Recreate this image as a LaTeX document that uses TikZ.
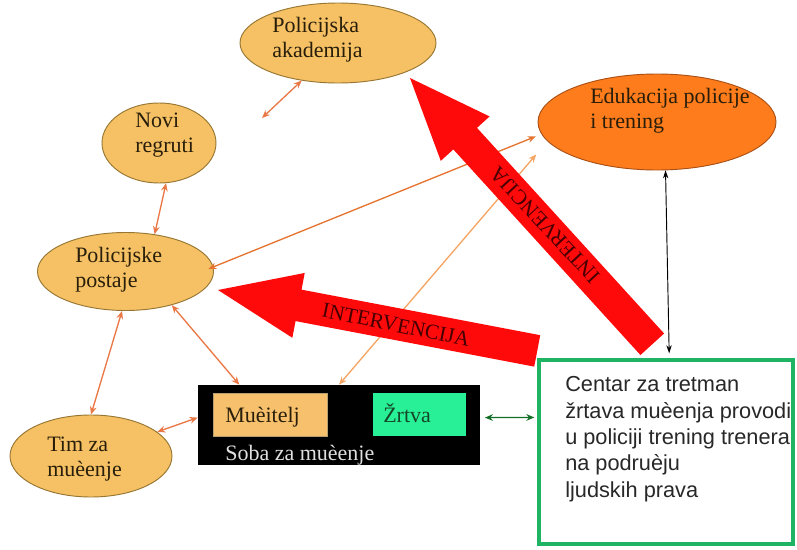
\documentclass[tikz,border=0pt]{standalone}
\usepackage{fontspec}
\setmainfont{Liberation Serif}
\newfontfamily\arialfont{Liberation Sans}
\usetikzlibrary{shapes.geometric,arrows.meta}
\definecolor{ellfill}{RGB}{246,193,100}
\definecolor{ellborder}{RGB}{150,118,50}
\definecolor{edufill}{RGB}{255,124,28}
\definecolor{eduborder}{RGB}{170,80,20}
\definecolor{arrorange}{RGB}{234,120,70}
\definecolor{arrdark}{RGB}{228,116,48}
\definecolor{arrlight}{RGB}{245,165,100}
\definecolor{mucfill}{RGB}{247,192,108}
\definecolor{zrtfill}{RGB}{40,240,150}
\definecolor{zrttext}{RGB}{20,70,40}
\definecolor{greenbox}{RGB}{30,180,100}
\definecolor{darkgreenarr}{RGB}{20,110,40}
\definecolor{bigred}{RGB}{255,10,10}
\definecolor{redtext}{RGB}{70,0,0}
\definecolor{elltext}{RGB}{40,30,10}
\definecolor{boxtext}{RGB}{40,40,40}
\begin{document}
\begin{tikzpicture}[x=0.75pt,y=-0.75pt,
  ell/.style={ellipse, draw=ellborder, fill=ellfill, line width=0.7pt, inner sep=0pt},
  lbl/.style={anchor=base west, align=left, inner sep=0pt, text=elltext,
    font=\fontsize{16.5}{18.5}\selectfont},
  oarr/.style={{Stealth[length=6pt,width=5pt]}-{Stealth[length=6pt,width=5pt]}, draw=arrorange, line width=1pt},
  arrtxt/.style={inner sep=0pt, text=redtext, font=\fontsize{16}{18}\selectfont},
  bigarrow/.style={fill=bigred}
]
\useasboundingbox (0,0) rectangle (797,550);

% ellipses
\node[ell, minimum width=147pt, minimum height=60pt] (acad) at (338,43) {};
\node[ell, minimum width=85.5pt, minimum height=60pt] (novi) at (159,143) {};
\node[ell, minimum width=132pt, minimum height=58.5pt] (post) at (125.5,271.5) {};
\node[ell, minimum width=121.5pt, minimum height=61.5pt] (tim) at (91,456) {};
\node[ellipse, draw=eduborder, fill=edufill, line width=0.7pt, inner sep=0pt,
      minimum width=178.5pt, minimum height=72pt] (edu) at (657,122) {};

% labels in ellipses (anchor = baseline of last line)
\node[lbl] (acadT) at (272,57) {Policijska\\akademija};
\node[lbl] (noviT) at (135,152) {Novi\\regruti};
\node[lbl] (postT) at (75,287) {Policijske\\postaje};
\node[lbl] (timT) at (47,476) {Tim za\\muèenje};
\node[lbl] (eduT) at (590,128) {Edukacija policije\\i trening};

% torture room
\node[rectangle, fill=black, draw=none, minimum width=211.5pt, minimum height=60pt, inner sep=0pt] (black) at (339,425) {};
\node[rectangle, fill=mucfill, draw=ellborder!70, line width=0.4pt, minimum width=85.5pt, minimum height=32.25pt, inner sep=0pt] (muc) at (270,414.5) {};
\node[rectangle, fill=zrtfill, draw=none, minimum width=69.75pt, minimum height=32.25pt, inner sep=0pt] (zrt) at (419.5,414.5) {};
\node[lbl] (mucT) at (225,422) {Muèitelj};
\node[lbl, text=zrttext] (zrtT) at (383,422) {Žrtva};
\node[lbl, text=white!88!black] (sobaT) at (225,460) {Soba za muèenje};

% green box
\node[rectangle, draw=greenbox, line width=3pt, fill=white, minimum width=190.5pt, minimum height=138pt, inner sep=0pt] (green) at (666,452) {};
\node[anchor=base west, align=left, inner sep=0pt, text=boxtext,
      font=\arialfont\fontsize{16.3}{19.7}\selectfont] (greenT) at (565,497)
  {Centar za tretman\\žrtava muèenja provodi\\u policiji trening trenera\\na podruèju\\ljudskih prava};

% thin connectors
\coordinate (nfree) at (262,118);
\draw[oarr] (acad.226) -- (nfree);
\draw[oarr] (novi.-80) -- (post.52);
\draw[oarr] (post.-95) -- (tim.90);
\draw[oarr] (post.-36) -- (black.158);
\draw[oarr] (tim.20) -- (black.177);
\draw[oarr, draw=arrdark, shorten <=-4pt, shorten >=4.5pt] (post.3) -- (edu.186);
\draw[oarr, draw=arrlight, shorten >=13pt] (black.90) -- (edu.190);
\draw[{Stealth[length=6pt,width=4pt]}-{Stealth[length=6pt,width=4pt]}, line width=0.7pt, black, shorten >=3.5pt] (edu.-80) -- (green.88);
\draw[{Stealth[length=6pt,width=5pt]}-{Stealth[length=6pt,width=5pt]}, line width=1pt, draw=darkgreenarr, shorten <=3.5pt, shorten >=2pt] (black.3) -- (green.165);

% big red arrows
\begin{scope}[shift={(218,290)}, rotate=169.2]
  \fill[bigarrow] (0,0) -- (-82,33) -- (-82,16) -- (-325,16) -- (-325,-16) -- (-82,-16) -- (-82,-33) -- cycle;
\end{scope}
\begin{scope}[shift={(410,78)}, rotate=132.3]
  \fill[bigarrow] (0,0) -- (-82,33) -- (-82,16) -- (-360,16) -- (-360,-16) -- (-82,-16) -- (-82,-33) -- cycle;
\end{scope}
\node[arrtxt, rotate=-11.5] (int1) at (396,325) {INTERVENCIJA};
\node[arrtxt, rotate=133] (int2) at (545,225) {INTERVENCIJA};
\end{tikzpicture}
\end{document}
